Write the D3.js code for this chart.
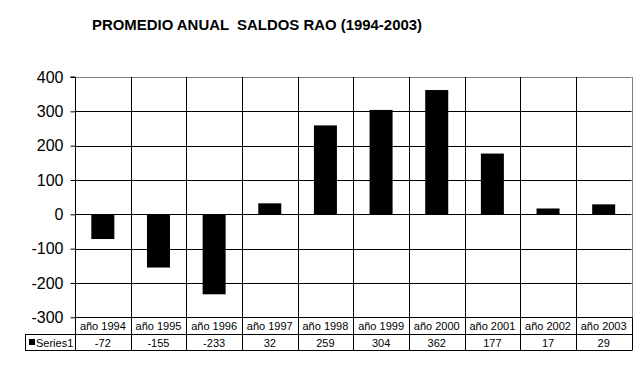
<!DOCTYPE html>
<html><head><meta charset="utf-8">
<script src="https://cdn.jsdelivr.net/npm/d3@7"></script>
<style>body{margin:0;background:#fff}svg{display:block}text{font-family:"Liberation Sans",Arial,sans-serif}</style>
</head><body>
<script>
const categories = ["año 1994","año 1995","año 1996","año 1997","año 1998","año 1999","año 2000","año 2001","año 2002","año 2003"];
const values = [-72,-155,-233,32,259,304,362,177,17,29];
const yTicks = [-300,-200,-100,0,100,200,300,400];
const seriesName = "Series1";
const title = "PROMEDIO ANUAL  SALDOS RAO (1994-2003)";

const W=643,H=375;
const svg=d3.select("body").append("svg").attr("width",W).attr("height",H);
const L=75,R=631.5,T=77,B=317.3;
const x=d3.scaleBand().domain(categories).range([L,R]).paddingInner(0).paddingOuter(0);
const y=d3.scaleLinear().domain([-300,400]).range([B,T]);

svg.append("text").attr("x",92).attr("y",29.5).attr("font-size",14).attr("font-weight","bold")
  .attr("xml:space","preserve").style("white-space","pre").attr("textLength",330).attr("lengthAdjust","spacingAndGlyphs").text(title);

// horizontal gridlines
svg.append("g").selectAll("line").data(yTicks.filter(d=>d!==400&&d!==-300)).join("line")
  .attr("x1",L).attr("x2",R).attr("y1",d=>Math.round(y(d))+0.5).attr("y2",d=>Math.round(y(d))+0.5)
  .attr("stroke","#000").attr("stroke-width",1);
// plot border top/right (gray)
svg.append("line").attr("x1",L).attr("x2",R).attr("y1",Math.round(T)+0.5).attr("y2",Math.round(T)+0.5).attr("stroke","#808080");
svg.append("line").attr("x1",Math.round(R)+0.5).attr("x2",Math.round(R)+0.5).attr("y1",T).attr("y2",B).attr("stroke","#808080");
// vertical category lines
const vx=categories.slice(1).map(c=>x(c));
svg.append("g").selectAll("line").data(vx).join("line")
  .attr("x1",d=>Math.round(d)+0.5).attr("x2",d=>Math.round(d)+0.5).attr("y1",T).attr("y2",350)
  .attr("stroke","#000");

// bars
const bw=23;
svg.append("g").selectAll("rect").data(values).join("rect")
  .attr("x",(d,i)=>x(categories[i])+x.bandwidth()/2-bw/2)
  .attr("width",bw)
  .attr("y",d=>y(Math.max(0,d)))
  .attr("height",d=>Math.abs(y(d)-y(0)))
  .attr("fill","#000");

// y axis
const ax=svg.append("g").attr("transform",`translate(${Math.round(L)+0.5},0)`)
  .call(d3.axisLeft(y).tickValues(yTicks).tickSize(5).tickPadding(7).tickFormat(d=>String(d)));
ax.select(".domain").attr("stroke","#000").attr("d",`M-5,${T}H0V${B}`);
ax.selectAll(".tick line").attr("stroke","#000");
ax.selectAll("text").attr("font-size",16).attr("fill","#000").style("font-family","'Liberation Sans',Arial,sans-serif");

// data table
const r0=Math.round(B)+0.5, r1=334.5, r2=350.5;
const tbl=svg.append("g");
tbl.append("line").attr("x1",L).attr("x2",R+0.5).attr("y1",r0).attr("y2",r0).attr("stroke","#000");
tbl.append("line").attr("x1",25).attr("x2",R+0.5).attr("y1",r1).attr("y2",r1).attr("stroke","#000");
tbl.append("line").attr("x1",25).attr("x2",R+0.5).attr("y1",r2).attr("y2",r2).attr("stroke","#000");
tbl.append("line").attr("x1",25.5).attr("x2",25.5).attr("y1",r1).attr("y2",r2).attr("stroke","#000");
tbl.append("line").attr("x1",Math.round(L)+0.5).attr("x2",Math.round(L)+0.5).attr("y1",B).attr("y2",r2).attr("stroke","#000");
tbl.append("line").attr("x1",Math.round(R)+0.5).attr("x2",Math.round(R)+0.5).attr("y1",B).attr("y2",r2).attr("stroke","#000");
tbl.selectAll("text.cat").data(categories).join("text").attr("class","cat")
  .attr("x",d=>x(d)+x.bandwidth()/2).attr("y",330).attr("text-anchor","middle").attr("font-size",11).text(d=>d);
tbl.selectAll("text.val").data(values).join("text").attr("class","val")
  .attr("x",(d,i)=>x(categories[i])+x.bandwidth()/2).attr("y",346.5).attr("text-anchor","middle").attr("font-size",11).text(d=>d);
tbl.append("rect").attr("x",29).attr("y",339).attr("width",6).attr("height",6).attr("fill","#000");
tbl.append("text").attr("x",36).attr("y",346.5).attr("font-size",11).text(seriesName);
</script>
</body></html>
